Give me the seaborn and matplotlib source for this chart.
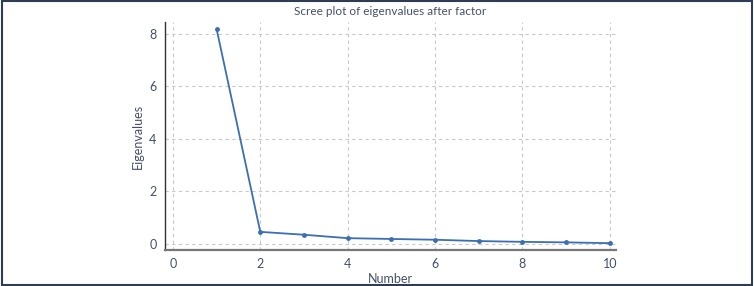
import matplotlib
matplotlib.use("Agg")
import matplotlib.pyplot as plt
import seaborn as sns
import pandas as pd
from matplotlib.patches import Rectangle

numbers = [1, 2, 3, 4, 5, 6, 7, 8, 9, 10]
eigenvalues = [8.18, 0.46, 0.35, 0.22, 0.19, 0.16, 0.11, 0.08, 0.06, 0.03]

df = pd.DataFrame({"Number": numbers, "Eigenvalues": eigenvalues})

sns.set_style("white")
plt.rcParams['font.family'] = ['Lato', 'DejaVu Sans']

text_col = '#44506a'
line_col = '#3b6fb3'

fig = plt.figure(figsize=(7.54, 2.86), dpi=100)
ax = fig.add_axes([165 / 754, 1 - 250 / 286, (616 - 165) / 754, (250 - 22) / 286])

sns.lineplot(data=df, x="Number", y="Eigenvalues", ax=ax, color=line_col,
             marker='o', markersize=3.5, markeredgewidth=0, linewidth=1.3)

ax.set_xlim(-0.18, 10.14)
ax.set_ylim(-0.23, 8.44)
ax.set_xticks([0, 2, 4, 6, 8, 10])
ax.set_yticks([0, 2, 4, 6, 8])

ax.grid(True, linestyle=(0, (3, 3)), color='#c8c8c8', linewidth=0.8)
for s in ['top', 'right']:
    ax.spines[s].set_visible(False)
ax.spines['left'].set_color('#333333')
ax.spines['left'].set_linewidth(1.0)
ax.spines['bottom'].set_color('#777777')
ax.spines['bottom'].set_linewidth(1.6)

ax.tick_params(axis='both', direction='out', length=4, width=0.8, color='#333333',
               labelsize=9, labelcolor=text_col, pad=2)
ax.set_xlabel('Number', fontsize=9, color=text_col, labelpad=2)
ax.set_ylabel('Eigenvalues', fontsize=9, color=text_col, labelpad=4)
ax.set_title('Scree plot of eigenvalues after factor', fontsize=8.5, color=text_col, pad=5)

fig.patches.append(Rectangle((0.002, 0.004), 0.996, 0.992, transform=fig.transFigure,
                             fill=False, edgecolor='#2f3d52', linewidth=1.5))

fig.savefig('out.png', dpi=100)
